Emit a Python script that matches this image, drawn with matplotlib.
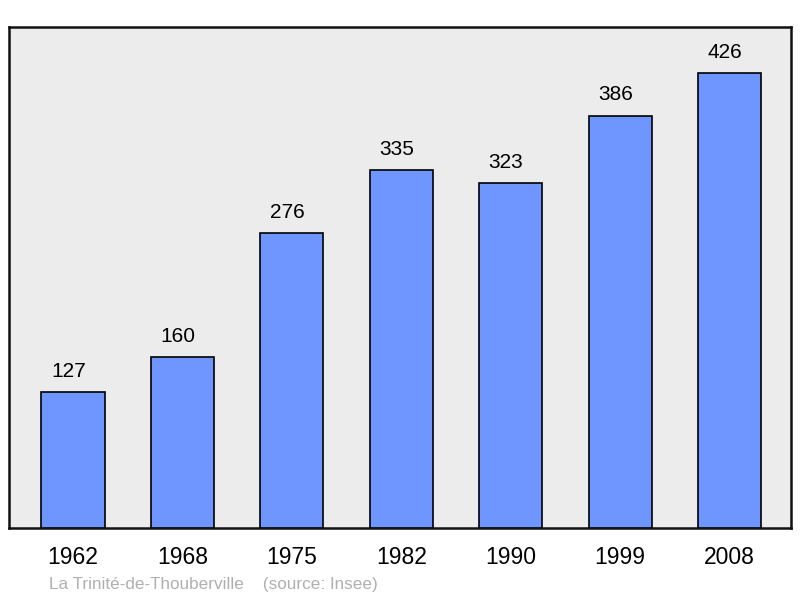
import matplotlib
matplotlib.use("Agg")
import matplotlib.pyplot as plt

plt.rcParams['font.family'] = ['Liberation Sans', 'DejaVu Sans']

years = ["1962", "1968", "1975", "1982", "1990", "1999", "2008"]
population = [127, 160, 276, 335, 323, 386, 426]
source_text = "La Trinité-de-Thouberville    (source: Insee)"

W, H = 800, 598
fig = plt.figure(figsize=(W / 100, H / 100), dpi=100)
ax = fig.add_axes([9 / W, 1 - 528 / H, 782 / W, 501 / H])
ax.set_facecolor("#ececec")

x = list(range(len(years)))
ax.bar(x, population, width=0.576, color="#6f96ff", edgecolor="black", linewidth=1.2, zorder=3)

ax.set_xlim(-0.585, 6.562)
ax.set_ylim(0, 469)

for xi, v in zip(x, population):
    ax.annotate(str(v), (xi, v), xytext=(-3.3, 15), textcoords="offset points",
                ha="center", va="center", fontsize=15, color="black")

ax.set_xticks(x)
ax.set_xticklabels([])
ax.tick_params(axis="x", length=0)
for xi, yr in zip(x, years):
    ax.annotate(yr, (xi, 0), xytext=(0, -21), textcoords="offset points",
                ha="center", va="center", fontsize=16.5, color="black", annotation_clip=False)
ax.set_yticks([])
for s in ax.spines.values():
    s.set_linewidth(1.8)
    s.set_color("#111111")

fig.text(49 / W, 1 - 584.5 / H, source_text, fontsize=12.3, color="#b0b0b0", ha="left", va="center")

fig.savefig("out.png", dpi=100)
